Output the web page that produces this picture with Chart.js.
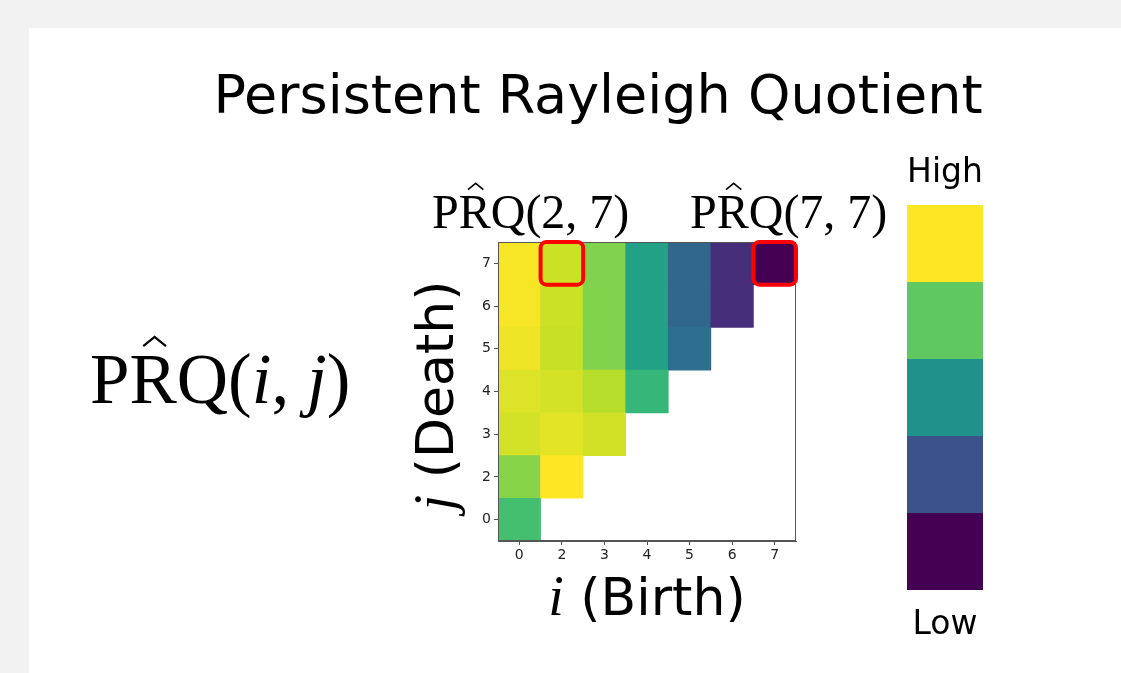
<!DOCTYPE html>
<html>
<head>
<meta charset="utf-8">
<title>Persistent Rayleigh Quotient</title>
<script src="https://cdn.jsdelivr.net/npm/chart.js@4.4.1/dist/chart.umd.min.js"></script>
<style>
  html, body { margin: 0; padding: 0; background: #f2f2f2; width: 1121px; height: 673px; overflow: hidden; }
  #panel { position: absolute; left: 29px; top: 28px; width: 1092px; height: 645px; background: #fff; }
  #prqChart { position: absolute; left: 0; top: 0; }
</style>
</head>
<body>
<div id="panel"></div>
<canvas id="prqChart" width="1121" height="673"></canvas>
<script>
const birthLabels = ['0', '2', '3', '4', '5', '6', '7'];
const deathLabels = ['0', '2', '3', '4', '5', '6', '7'];

// PRQ(i, j) scaled 0 (low) .. 1 (high); one list per birth column, indexed by death row
const prqBirth0 = [0.70, 0.82, 0.935, 0.95, 0.975, 0.99, 0.99];
const prqBirth2 = [null, 1.00, 0.96, 0.935, 0.915, 0.92, 0.92];
const prqBirth3 = [null, null, 0.93, 0.89, 0.81, 0.81, 0.81];
const prqBirth4 = [null, null, null, 0.66, 0.57, 0.57, 0.57];
const prqBirth5 = [null, null, null, null, 0.36, 0.33, 0.33];
const prqBirth6 = [null, null, null, null, null, 0.13, 0.13];
const prqBirth7 = [null, null, null, null, null, null, 0.00];
const prqColumns = [prqBirth0, prqBirth2, prqBirth3, prqBirth4, prqBirth5, prqBirth6, prqBirth7];

// legend bar, top to bottom
const colorbarLevels = [1.0, 0.75, 0.5, 0.25, 0.0];

// cells marked with a red box: [birth, death]
const highlightCells = [['2', '7'], ['7', '7']];

const viridisStops = ['#440154', '#482475', '#414487', '#355f8d', '#2a788e', '#21918c',
                      '#22a884', '#44bf70', '#7ad151', '#bddf26', '#fde725'];

function hexToRgb(h) {
    return [1, 3, 5].map(i => parseInt(h.slice(i, i + 2), 16));
}

function viridis(t) {
    const x = Math.max(0, Math.min(1, t)) * (viridisStops.length - 1);
    const i = Math.min(Math.floor(x), viridisStops.length - 2);
    const f = x - i;
    const a = hexToRgb(viridisStops[i]);
    const b = hexToRgb(viridisStops[i + 1]);
    const c = a.map((v, k) => Math.round(v + (b[k] - v) * f));
    return `rgb(${c[0]}, ${c[1]}, ${c[2]})`;
}

// one dataset per death row, each cell a floating bar of height 1
const datasets = deathLabels.map((d, r) => ({
    label: 'j = ' + d,
    data: prqColumns.map(col => col[r] == null ? null : [r - 0.5, r + 0.5]),
    backgroundColor: prqColumns.map(col => col[r] == null ? 'rgba(0,0,0,0)' : viridis(col[r])),
    borderWidth: 0,
    barPercentage: 1,
    categoryPercentage: 1,
    grouped: false
}));

const SANS = '"DejaVu Sans", sans-serif';
const SERIF = '"Liberation Serif", serif';

// draws a small formula made of roman / italic serif pieces, R may carry a hat
function drawMath(ctx, parts, x, baseline, size) {
    let cx = x;
    parts.forEach(p => {
        ctx.font = (p.italic ? 'italic ' : '') + size + 'px ' + SERIF;
        const w = ctx.measureText(p.t).width;
        ctx.fillText(p.t, cx, baseline);
        if (p.hat) {
            const mid = cx + w / 2 + size * 0.02;
            ctx.beginPath();
            ctx.moveTo(mid - size * 0.16, baseline - size * 0.80);
            ctx.lineTo(mid, baseline - size * 0.93);
            ctx.lineTo(mid + size * 0.16, baseline - size * 0.80);
            ctx.lineWidth = size * 0.032;
            ctx.lineJoin = 'miter';
            ctx.stroke();
        }
        cx += w;
    });
}

function prqParts(a, b, italic) {
    return [
        { t: 'P' }, { t: 'R', hat: true }, { t: 'Q(' },
        { t: a, italic: italic }, { t: ', ' }, { t: b, italic: italic }, { t: ')' }
    ];
}

const decorations = {
    id: 'decorations',
    afterDraw(chart) {
        const ctx = chart.ctx;
        const area = chart.chartArea;
        const xs = chart.scales.x;
        const ys = chart.scales.y;
        ctx.save();

        // plot frame
        ctx.strokeStyle = '#555';
        ctx.lineWidth = 1;
        ctx.strokeRect(Math.round(area.left) + 0.5, Math.round(area.top) + 0.5,
                       Math.round(area.width) - 1, Math.round(area.height) - 1);

        // red boxes round the marked cells
        const halfW = (xs.getPixelForValue(1) - xs.getPixelForValue(0)) / 2;
        const halfH = Math.abs(ys.getPixelForValue(0.5) - ys.getPixelForValue(0));
        ctx.strokeStyle = '#ff0000';
        ctx.lineWidth = 4;
        highlightCells.forEach(([b, d]) => {
            const cx = xs.getPixelForValue(birthLabels.indexOf(b));
            const cy = ys.getPixelForValue(deathLabels.indexOf(d));
            ctx.beginPath();
            ctx.roundRect(cx - halfW, cy - halfH, halfW * 2, halfH * 2, 6);
            ctx.stroke();
        });

        ctx.fillStyle = '#000';
        ctx.strokeStyle = '#000';
        ctx.textBaseline = 'alphabetic';

        // title
        ctx.textAlign = 'center';
        ctx.font = '54px ' + SANS;
        ctx.fillText('Persistent Rayleigh Quotient', 598, 113);

        // formulas
        ctx.textAlign = 'left';
        drawMath(ctx, prqParts('i', 'j', true), 90, 403, 71);
        drawMath(ctx, prqParts('2', '7', false), 432, 228, 48);
        drawMath(ctx, prqParts('7', '7', false), 690, 228, 48);

        // x axis title: i (Birth)
        const midX = (area.left + area.right) / 2;
        ctx.font = 'italic 56px ' + SERIF;
        const wi = ctx.measureText('i').width;
        ctx.font = '52px ' + SANS;
        const wb = ctx.measureText(' (Birth)').width;
        let tx = midX - (wi + wb) / 2;
        ctx.font = 'italic 56px ' + SERIF;
        ctx.fillText('i', tx, 615);
        ctx.font = '52px ' + SANS;
        ctx.fillText(' (Birth)', tx + wi, 615);

        // y axis title: j (Death), rotated
        const midY = (area.top + area.bottom) / 2 + 4;
        ctx.save();
        ctx.translate(453, midY);
        ctx.rotate(-Math.PI / 2);
        ctx.font = 'italic 56px ' + SERIF;
        const wj = ctx.measureText('j').width;
        ctx.font = '52px ' + SANS;
        const wd = ctx.measureText(' (Death)').width;
        tx = -(wj + wd) / 2;
        ctx.font = 'italic 56px ' + SERIF;
        ctx.fillText('j', tx, 0);
        ctx.font = '52px ' + SANS;
        ctx.fillText(' (Death)', tx + wj, 0);
        ctx.restore();

        // colour bar
        const barX = 907, barW = 76, barTop = 205, segH = 77;
        colorbarLevels.forEach((v, k) => {
            ctx.fillStyle = viridis(v);
            ctx.fillRect(barX, barTop + k * segH, barW, segH);
        });
        ctx.fillStyle = '#000';
        ctx.textAlign = 'center';
        ctx.font = '33px ' + SANS;
        ctx.fillText('High', barX + barW / 2, 182);
        ctx.fillText('Low', barX + barW / 2, 634);

        ctx.restore();
    }
};

const tickFont = { family: 'DejaVu Sans', size: 14 };

new Chart(document.getElementById('prqChart'), {
    type: 'bar',
    data: { labels: birthLabels, datasets: datasets },
    options: {
        responsive: false,
        animation: false,
        devicePixelRatio: 1,
        layout: { padding: { left: 470, right: 325, top: 242, bottom: 104 } },
        scales: {
            x: {
                type: 'category',
                offset: true,
                afterFit: axis => { axis.height = 28; },
                ticks: { font: tickFont, color: '#222', padding: 2, maxRotation: 0 },
                grid: { offset: false, drawOnChartArea: false, drawTicks: true, tickLength: 4, color: '#555' },
                border: { display: true, color: '#555', width: 1 }
            },
            y: {
                type: 'linear',
                min: -0.5,
                max: deathLabels.length - 0.5,
                afterBuildTicks: axis => { axis.ticks = deathLabels.map((_, i) => ({ value: i })); },
                afterFit: axis => { axis.width = 28; },
                ticks: { font: tickFont, color: '#222', padding: 3, callback: v => deathLabels[v] },
                grid: { drawOnChartArea: false, drawTicks: true, tickLength: 4, color: '#555' },
                border: { display: true, color: '#555', width: 1 }
            }
        },
        plugins: {
            legend: { display: false },
            tooltip: { enabled: false },
            title: { display: false }
        }
    },
    plugins: [decorations]
});
</script>
</body>
</html>
